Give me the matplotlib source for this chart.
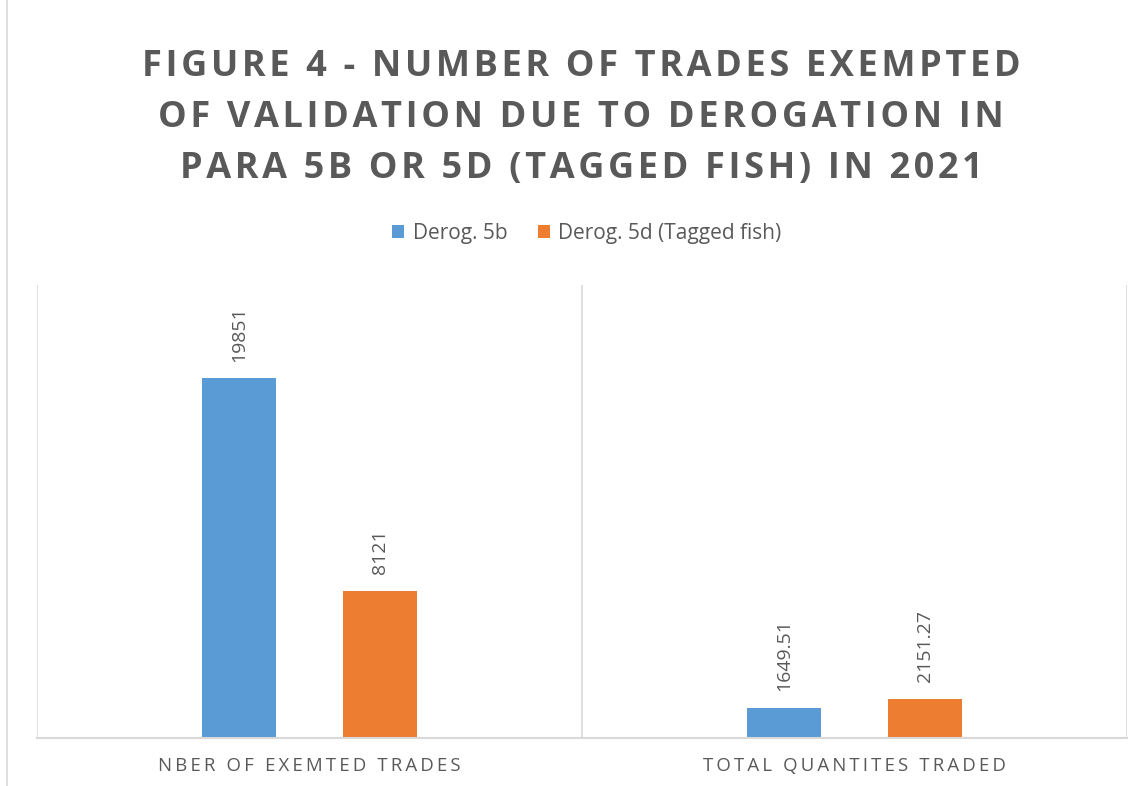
# Figure 4 - trades exempted of validation, 2021
import matplotlib.pyplot as plt
import numpy as np

plt.rcParams['font.family'] = ['Open Sans', 'DejaVu Sans']

categories = ['NBER OF EXEMTED TRADES', 'TOTAL QUANTITES TRADED']
series = ['Derog. 5b', 'Derog. 5d (Tagged fish)']
derog_5b = [19851, 1649.51]
derog_5d = [8121, 2151.27]
labels_5b = ['19851', '1649.51']
labels_5d = ['8121', '2151.27']
colors = ['#5b9bd5', '#ed7d31']
grey = '#595959'


def spaced(s, sep='\u200a'):
    # crude letter spacing
    return sep.join(s)


fig = plt.figure(figsize=(11.44, 7.86), dpi=100)
ax = fig.add_axes([0.0323, 0.0611, 0.9528, 0.5763])

x = np.arange(len(categories))
w = 0.136
off = 0.129
b1 = ax.bar(x - off, derog_5b, w, color=colors[0], label=series[0])
b2 = ax.bar(x + off, derog_5d, w, color=colors[1], label=series[1])

for bars, labs in ((b1, labels_5b), (b2, labels_5d)):
    for rect, lab in zip(bars, labs):
        ax.annotate(lab, (rect.get_x() + rect.get_width() / 2, rect.get_height()),
                    xytext=(0, 12), textcoords='offset points', rotation=90,
                    ha='center', va='bottom', fontsize=14, color=grey)

ax.set_xlim(-0.5, 1.5)
ax.set_ylim(0, 25000)
ax.set_yticks([])
ax.set_xticks(x)
ax.set_xticklabels([spaced(c, '\u2009') for c in categories], fontsize=13.4, color=grey)
ax.tick_params(axis='x', length=0, pad=14)

# category separators
for xv in (-0.5, 0.5, 1.5):
    ax.axvline(xv, color='#d9d9d9', lw=1.2, zorder=0)
for s in ('top', 'right', 'left'):
    ax.spines[s].set_visible(False)
ax.spines['bottom'].set_color('#d9d9d9')
ax.spines['bottom'].set_linewidth(1.5)

title = ('FIGURE 4 - NUMBER OF TRADES EXEMPTED\n'
         'OF VALIDATION DUE TO DEROGATION IN\n'
         'PARA 5B OR 5D (TAGGED FISH) IN 2021')
fig.text(0.508, 0.850, '\n'.join(spaced(l, '\u200a') for l in title.split('\n')),
         ha='center', va='center', fontsize=26, fontweight='bold', color=grey,
         linespacing=1.56)

fig.legend(handles=[b1, b2], loc='center', bbox_to_anchor=(0.513, 0.703), ncol=2,
           frameon=False, fontsize=15, handlelength=0.6, handleheight=0.6,
           handletextpad=0.4, columnspacing=1.45, labelcolor=grey)

# outer chart border
fig.patches.append(plt.Rectangle((0.006, -0.01), 1.0, 1.02, transform=fig.transFigure,
                                 fill=False, edgecolor='#d9d9d9', lw=1.2))

fig.savefig('out.png', dpi=100)
